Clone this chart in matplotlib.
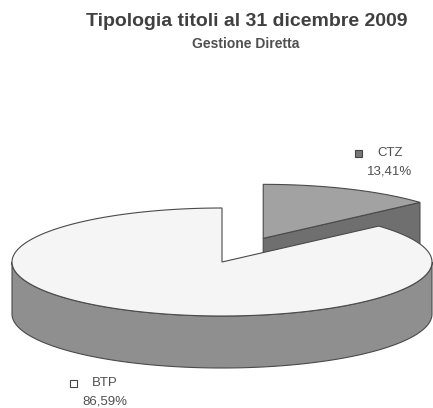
import numpy as np
import matplotlib.pyplot as plt
from matplotlib.patches import Polygon, Rectangle

# dati
categorie = ["BTP", "CTZ"]
valori = [86.59, 13.41]
titolo = "Tipologia titoli al 31 dicembre 2009"
sottotitolo = "Gestione Diretta"

plt.rcParams['font.family'] = ['Liberation Sans', 'DejaVu Sans']

fig = plt.figure(figsize=(4.33, 4.08), dpi=100)
ax = fig.add_axes([0, 0, 1, 1])
ax.set_xlim(0, 433)
ax.set_ylim(408, 0)
ax.axis('off')

# geometria della torta (in pixel)
cx, cy = 222, 262
a, b = 210, 54
d = 52
esplodi = 0.48
bordo = '#4a4a4a'

def punti(t1, t2, ox=0, oy=0, dy=0, n=200):
    t = np.radians(np.linspace(t1, t2, n))
    return np.column_stack([cx + ox + a*np.cos(t), cy + oy + dy - b*np.sin(t)])

tot = sum(valori)
ang_ctz = 360*valori[1]/tot
t_ctz = (90 - ang_ctz, 90)
t_btp = (90, 90 - ang_ctz + 360)

# CTZ esploso
mid = np.radians(sum(t_ctz)/2)
ox, oy = esplodi*a*np.cos(mid), -esplodi*b*np.sin(mid)
c0 = np.array([cx + ox, cy + oy])
p1 = punti(t_ctz[0], t_ctz[0], ox, oy, n=1)[0]
faccia = np.array([c0, p1, p1 + [0, d*0.8], c0 + [0, d*0.8]])
ax.add_patch(Polygon(faccia, closed=True, fc='#6f6f6f', ec=bordo, lw=0.8))
top_ctz = np.vstack([c0, punti(t_ctz[0], t_ctz[1], ox, oy)])
ax.add_patch(Polygon(top_ctz, closed=True, fc='#a2a2a2', ec=bordo, lw=0.8))

# BTP: lato frontale e faccia superiore
lato = np.vstack([punti(180, 360), punti(360, 180, dy=d)])
ax.add_patch(Polygon(lato, closed=True, fc='#8f8f8f', ec=bordo, lw=0.8))
top_btp = np.vstack([[cx, cy], punti(t_btp[0], t_btp[1])])
ax.add_patch(Polygon(top_btp, closed=True, fc='#f5f5f5', ec=bordo, lw=0.8))

# titoli
ax.text(247, 21, titolo, ha='center', va='center', fontsize=14,
        fontweight='bold', color='#404040')
ax.text(246, 44, sottotitolo, ha='center', va='center', fontsize=10,
        fontweight='bold', color='#505050')

# etichette
def etichetta(x, y, nome, val, fc):
    ax.add_patch(Rectangle((x - 3.5, y - 3.5), 7, 7, fc=fc, ec='#444444', lw=0.8))
    ax.text(x + 19, y, nome, ha='left', va='center', fontsize=9.5, color='#505050')
    ax.text(x + 32, y + 19, f"{val:.2f}".replace('.', ',') + "%", ha='center',
            va='center', fontsize=9.5, color='#505050')

etichetta(73, 383, categorie[0], valori[0], 'white')
etichetta(358, 153, categorie[1], valori[1], '#777777')

fig.savefig('out.png', dpi=100)
